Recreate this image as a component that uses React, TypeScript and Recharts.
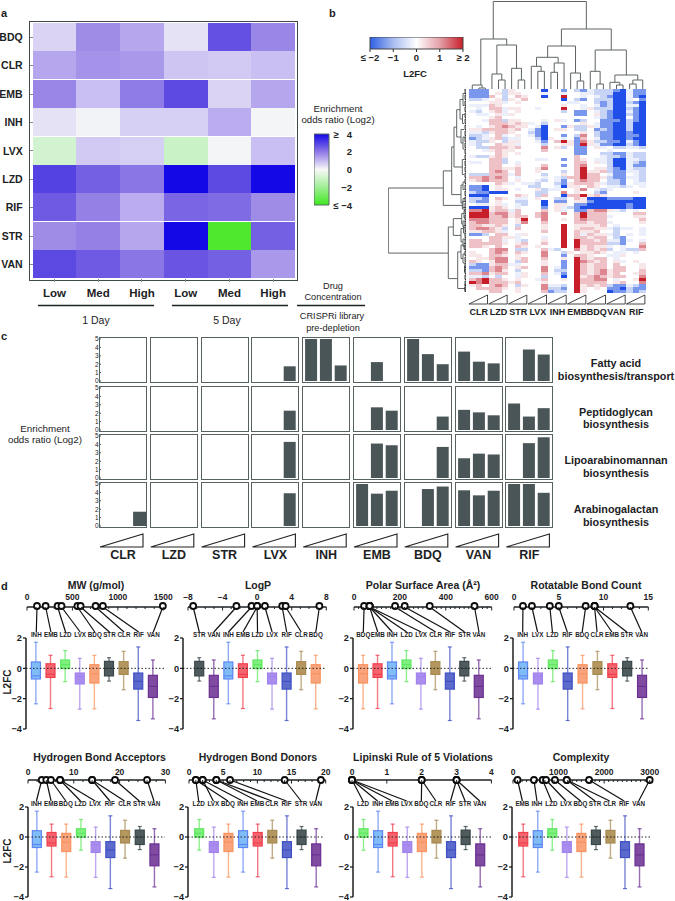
import React from "react";
import {
  BarChart,
  Bar,
  Cell,
  XAxis,
  YAxis,
  ScatterChart,
  Scatter,
  ReferenceLine,
} from "recharts";

const FONT = "'Liberation Sans', Arial, sans-serif";
const INK = "#1c2224";
const minus = (v: number | string) => String(v).replace("-", "\u2212");

// panel a
const oddsDrugs = ["BDQ", "CLR", "EMB", "INH", "LVX", "LZD", "RIF", "STR", "VAN"];
const oddsDoses = ["Low", "Med", "High", "Low", "Med", "High"];
const oddsRatio = [
  [0.7, 1.9, 1.5, 0.4, 3.0, 2.0],
  [1.5, 1.8, 1.7, 1.0, 0.9, 1.1],
  [2.0, 1.1, 2.2, 3.1, 0.7, 1.5],
  [0.4, 0.05, 0.8, 0.8, 1.4, 0.0],
  [-0.9, 0.9, 0.8, -1.1, 0.0, 1.1],
  [3.2, 2.7, 2.3, 4, 3.1, 4],
  [2.8, 2.1, 1.4, 2.6, 2.5, 1.9],
  [1.9, 2.1, 1.5, 4, -4, 2.7],
  [3.1, 2.8, 2.3, 2.9, 2.7, 1.7],
];

// panel b, one string per gene row, groups CLR LZD STR LVX INH EMB BDQ VAN RIF
// a..d = blue levels, p..s = red levels, dot = white
const l2fcRows = [
  "ccc ..b p.. ..d ..c .bc abb bcd acc",
  "ccc .pb pp. ..a ..a ..a abb bdd acc",
  "ccc q.b .qp ..d ..s ..a .ab cdd acd",
  "bba .pb p.q ... ..d .bc .bb bdd a.c",
  "... ppa .p. ... ... aa. .bc bdd bcd",
  "aaa qp. ... ... ..p ..a .ac bdd aad",
  ".a. qqa pp. .a. ..s ..a pbb bdd bcd",
  "ab. pqa .p. ... ..b .cc .ab cdd acd",
  ".aa .pa p.. ... ... .cc .pb cdd bcd",
  "... pq. ... ... ... ... .ab cdd .cd",
  "..a qqb pp. ..a .pa .cb ..c ccd bcd",
  "... qqq pqp a.b ... ..p .ac cdd bdd",
  ".a. pqr qpp .ad ..c pbb pac cdd bdd",
  "ppq qqq pq. acd .pp .bb .cb cdd bdd",
  "aab pqq p.. bcd ... ..p .bc cdd cdd",
  "bba .qa .p. acd ..c .br .bc cdd ccd",
  "cba pqb aa. .bd p.a .cq .ac cdd cdd",
  "abb p.b pp. .ac .qs pcr pbb ccd acd",
  "ab. .qp pa. ..b ..p pcs pac cdd bcd",
  ".bb qqq pq. ..r .pb .cc .pa .bb aab",
  "..a pqp p.. ..q ... .cc ... a.. ...",
  "... .qp .p. ... ... .cc ..b bcc abb",
  "abb pqp ... ... ... .q. ..a bbc abb",
  "... qqb ... .aa ..c .qp .aa bdd aab",
  "aa. qqb .a. ... ... .qq .pa bdd abc",
  "... qq. .p. ..q ..c .qr ... bdd acc",
  "... qqp pq. .pr ... .qs .pp bcd abb",
  "... qrq .q. .p. ..b .qs ppq bcc aab",
  "bbb qqq aq. ..b ..p .qs qq. acc .ab",
  "qqr qrq .a. ..a .ab qqs qqp bcc aab",
  "pqr qqq .p. .ab .ac .qr qq. bbc .ab",
  "... .qp a.a ab. .bc pqq qpa bbc .aa",
  "ccd .p. ... bb. .ad pp. qp. aab a.a",
  "ccd .pp .a. .pb aa. .pr .ab a.. ...",
  "bcc ddd ... .bb ..r .p. .bc ... .p.",
  "ddd ... .qp .bq ..d qqs pqp ... ...",
  "bbc .qp .aa .p. .bb .qp ddd ccc cdd",
  "bcc .p. .bb ..d .cc .pp cdd ddd ddd",
  ".aa .pa .ab ..d .pp .cc ddd ddd cdd",
  "ddd pqp .a. ..c .pa bcd ddd ddd cdd",
  "rrs pqq aq. ..q .pa .cc qrr pab .a.",
  "sss qrr pq. .qr ..r .qs qqq ... .qq",
  "sss qqr pqq .qr ... .qs qqq a.. .pp",
  "rrr qqq .ps ..r ..p .qr qqq ... ..q",
  "qrr qqq .pr ..q ... .qq pqq a.. ..p",
  "qqp pqp .b. ..p ..s .pp ppq .a. ...",
  "qrr qpb .q. ..p ..s .pq qpp aba a.a",
  "ppq qpa ... ..q ..s .qp pq. .b. ..a",
  "ccb .qq .ap ... ..s .qa qpp ab. a.a",
  "... qqp pa. ..a ..s .qq pqq .bc ...",
  "qq. qqa .ab ..p ..s .sq qpq aac a.a",
  "qqq qqp .pq ..q ..s .sq qqq bbc ..q",
  "qqp .q. .qp .p. ..s .sp qpp a.a ..r",
  "... qrr .bb ..q ab. .rp qpq b.a bbq",
  "p.. qrq .qp ..r ..b p.p pqp .aa .a.",
  "pp. qqp .p. ..r ..c .qq p.. aap ...",
  ".pp qrr .pq ..q ..p .sq pqq .a. ...",
  "qp. prr .bq ..p ..c .sr qpq .pa .p.",
  "bcc pqq aa. ..p ..c .sq pqq .q. ..p",
  "ccc qrq .pq ..r .ac .sq pqq .qq ..p",
  "bbc qrp .b. ..r .bb .sq pqr pqq ..q",
  "qqr pqq .ap ..q .ac .sq pqr pq. .pq",
  "aab .b. .ap ..b ..d .sp qrq pqq ..r",
  "qrs qqp .p. .aq ..p .sq qrr .a. .ps",
  "srs qqq pq. ..p ... .sq qqq .pq ..r",
  "pq. qrq .bp ..r aab .sp qpq bcc abc",
  ".qq qqp .p. ..r bbc .sp .p. ccd bcc",
  "... qq. .p. ..q cbb .sp ... dcc bcb",
];
const l2fcLevels: Record<string, number> = {
  ".": 0, a: -0.25, b: -0.65, c: -1.35, d: -2, p: 0.25, q: 0.65, r: 1.2, s: 2,
};
const l2fcDrugs = ["CLR", "LZD", "STR", "LVX", "INH", "EMB", "BDQ", "VAN", "RIF"];

// dendrogram merges: [posA, heightA, posB, heightB, height]
const columnMerges = [
  [1.5, 0, 2.5, 0, 1], [0.5, 0, 2, 1, 4],
  [4.5, 0, 5.5, 0, 9], [3.5, 0, 5, 9, 15],
  [7.5, 0, 8.5, 0, 9], [6.5, 0, 8, 9, 20.7],
  [4.25, 15, 7.25, 20.7, 44], [1.8, 4, 5.75, 44, 50],
  [10.5, 0, 11.5, 0, 17.7], [9.5, 0, 11, 17.7, 22.7],
  [12.5, 0, 13.5, 0, 16.7], [13, 16.7, 14.5, 0, 26],
  [10.3, 22.7, 13.6, 26, 31.7],
  [16.5, 0, 17.5, 0, 8], [15.5, 0, 17, 8, 16],
  [12, 31.7, 16.25, 16, 43],
  [19.5, 0, 20.5, 0, 5], [18.5, 0, 20, 5, 17.7],
  [22.5, 0, 23.5, 0, 4], [21.5, 0, 23, 4, 6.7],
  [24.5, 0, 25.5, 0, 5], [25, 5, 26.5, 0, 9],
  [22.25, 6.7, 25.75, 9, 14],
  [19.25, 17.7, 24, 14, 39],
  [14.1, 43, 21.7, 39, 60],
  [3.7, 50, 17.9, 60, 87.5],
];
const rowMerges = [
  [33, 22.7, 54.7, 17.7, 77.7],
  [27.3, 14.3, 38.8, 3.7, 22.7],
  [19.3, 12, 35.2, 5, 14.3],
  [12.7, 9.3, 26, 3.7, 12],
  [6.9, 6, 16, 5, 9.3],
  [46, 12.7, 63.2, 8.3, 17.7],
  [43.2, 4.3, 48.8, 5, 12.7],
  [54.3, 5, 66.5, 1, 8.3],
  [3.5, 3, 10, 3.5, 6], [1.5, 1, 5.5, 1.5, 3], [8.5, 1.5, 11.5, 2, 3.5],
  [13.5, 2, 18, 3, 5], [16, 1, 20, 1.5, 3], [23.5, 1.5, 28.5, 2, 3.7],
  [32, 3, 38, 3, 5], [31, 1, 33.5, 1.5, 3], [36.5, 1, 39.5, 1, 3],
  [37.5, 0.5, 40, 0.5, 3.7], [41.5, 2, 45, 3, 4.3], [40.5, 1, 43, 1, 2],
  [44, 1, 46, 1, 3], [46.5, 2.5, 51, 3, 5], [45.5, 1, 48, 1, 2.5],
  [50, 1, 52.5, 1, 3], [52, 2, 56.5, 3, 5], [51.5, 0.7, 53.5, 1, 2],
  [55, 1, 58, 1, 3], [59, 0.8, 61, 0.8, 1.5], [65, 0.5, 67.5, 0.5, 1],
];
const leafRows = [
  0, 2, 4, 6, 8, 10, 12, 14, 16, 18, 20, 22, 24, 26, 28, 30, 32, 34, 36, 38, 40, 42, 44, 46, 48,
  50, 52, 54, 56, 58, 60, 62, 64, 66,
];

// panel c
const pathwayDrugs = ["CLR", "LZD", "STR", "LVX", "INH", "EMB", "BDQ", "VAN", "RIF"];
const fattyAcid = [[0, 0, 0], [0, 0, 0], [0, 0, 0], [0, 0, 1.75], [5, 5, 1.85], [0, 2.25, 0], [5, 3.2, 2], [3.5, 2.3, 2.1], [0, 3.75, 3.15]];
const peptidoglycan = [[0, 0, 0], [0, 0, 0], [0, 0, 0], [0, 0, 2.3], [0, 0, 0], [0, 2.7, 2.3], [0, 0, 1.6], [2.4, 2.1, 1.75], [3.15, 1.6, 2.6]];
const lipoarabinomannan = [[0, 0, 0], [0, 0, 0], [0, 0, 0], [0, 0, 4.3], [0, 0, 0], [0, 4.1, 3.9], [0, 0, 3.7], [2.35, 2.9, 2.8], [0, 4.15, 4.85]];
const arabinogalactan = [[0, 0, 1.7], [0, 0, 0], [0, 0, 0], [0, 0, 3.9], [0, 0, 0], [5, 3.85, 4.2], [0, 4.4, 4.7], [4.25, 3.65, 4.2], [5, 5, 3.95]];
const pathwayRows = [fattyAcid, peptidoglycan, lipoarabinomannan, arabinogalactan];

// panel d
const boxDrugs = ["INH", "EMB", "LZD", "LVX", "BDQ", "STR", "CLR", "RIF", "VAN"];
const whiskerHigh = [1.72, 0.86, 1.17, 0.66, 0.86, 0.7, 1.12, 1.41, 0.55];
const quartile3 = [0.42, 0.3, 0.55, -0.31, 0.24, 0.46, 0.44, -0.31, -0.46];
const medians = [-0.5, -0.4, 0.25, -0.53, -0.35, 0, 0, -0.86, -1.19];
const quartile1 = [-0.7, -0.6, -0.02, -1.03, -0.97, -0.5, -0.4, -1.37, -1.92];
const whiskerLow = [-2.34, -2.65, -0.88, -2.69, -2.67, -0.84, -1.41, -3.44, -3.33];
const boxStroke: Record<string, string> = {
  INH: "#5f86f2", EMB: "#f0404e", LZD: "#5fe85f", LVX: "#a283ec", BDQ: "#f8935f",
  STR: "#39474a", CLR: "#a78a52", RIF: "#3f50c4", VAN: "#6b2f92",
};
const boxFill: Record<string, string> = {
  INH: "#7fbcf8", EMB: "#f5636d", LZD: "#7ff07f", LVX: "#a98dee", BDQ: "#f9a47c",
  STR: "#4f5b5d", CLR: "#b4975f", RIF: "#5c6acb", VAN: "#7f4ca2",
};

const mwOrder = ["INH", "EMB", "LZD", "LVX", "BDQ", "STR", "CLR", "RIF", "VAN"];
const mwValues = [110, 205, 337, 380, 555, 590, 755, 835, 1495];
const mwTicks = [0, 100, 200, 300, 400, 500, 600, 700, 800, 900, 1000, 1100, 1200, 1300, 1400, 1500];
const logpOrder = ["STR", "VAN", "INH", "EMB", "LZD", "LVX", "RIF", "CLR", "BDQ"];
const logpValues = [-7.4, -2.4, -0.65, 0, 0, 0.9, 2.9, 3.3, 7.2];
const logpTicks = [-8, -7, -6, -5, -4, -3, -2, -1, 0, 1, 2, 3, 4, 5, 6, 7, 8];
const psaOrder = ["BDQ", "EMB", "INH", "LZD", "LVX", "CLR", "RIF", "STR", "VAN"];
const psaValues = [44, 68, 68, 68, 68, 179, 221, 330, 525];
const psaTicks = [0, 20, 40, 60, 80, 100, 120, 140, 160, 180, 200, 220, 240, 260, 280, 300, 320, 340, 360, 380, 400, 420, 440, 460, 480, 500, 520, 540, 560, 580, 600];
const rotOrder = ["INH", "LVX", "LZD", "RIF", "BDQ", "CLR", "EMB", "STR", "VAN"];
const rotValues = [1, 2, 4, 5, 8, 9, 9, 9, 13];
const rotTicks = [0, 1, 2, 3, 4, 5, 6, 7, 8, 9, 10, 11, 12, 13, 14, 15];
const hbaOrder = ["INH", "EMB", "BDQ", "LZD", "LVX", "RIF", "CLR", "STR", "VAN"];
const hbaValues = [3, 4, 5, 7, 7, 14, 14, 19, 26];
const hbaTicks = [0, 2, 4, 6, 8, 10, 12, 14, 16, 18, 20, 22, 24, 26, 28, 30];
const hbdOrder = ["LZD", "LVX", "BDQ", "INH", "EMB", "CLR", "RIF", "STR", "VAN"];
const hbdValues = [1, 2, 1, 2, 4, 4, 6, 14, 19.3];
const hbdTicks = [0, 1, 2, 3, 4, 5, 6, 7, 8, 9, 10, 11, 12, 13, 14, 15, 16, 17, 18, 19, 20];
const lipinskiOrder = ["LZD", "INH", "EMB", "LVX", "BDQ", "CLR", "RIF", "STR", "VAN"];
const lipinskiValues = [0, 0, 0, 0, 2, 2, 3, 3, 3];
const lipinskiTicks = [0, 1, 2, 3, 4];
const complexityOrder = ["EMB", "INH", "LZD", "LVX", "BDQ", "STR", "CLR", "RIF", "VAN"];
const complexityValues = [100, 460, 650, 725, 920, 1180, 1180, 1670, 3000];
const complexityTicks = [0, 100, 200, 300, 400, 500, 600, 700, 800, 900, 1000, 1100, 1200, 1300, 1400, 1500, 1600, 1700, 1800, 1900, 2000, 2100, 2200, 2300, 2400, 2500, 2600, 2700, 2800, 2900, 3000];

const propertyPanels = [
  { title: "MW (g/mol)", order: mwOrder, values: mwValues, ticks: mwTicks, major: [0, 500, 1000, 1500] },
  { title: "LogP", order: logpOrder, values: logpValues, ticks: logpTicks, major: [-8, -4, 0, 4, 8] },
  { title: "Polar Surface Area (\u00c5\u00b2)", order: psaOrder, values: psaValues, ticks: psaTicks, major: [0, 200, 400, 600] },
  { title: "Rotatable Bond Count", order: rotOrder, values: rotValues, ticks: rotTicks, major: [0, 5, 10, 15] },
  { title: "Hydrogen Bond Acceptors", order: hbaOrder, values: hbaValues, ticks: hbaTicks, major: [0, 10, 20, 30] },
  { title: "Hydrogen Bond Donors", order: hbdOrder, values: hbdValues, ticks: hbdTicks, major: [0, 5, 10, 15, 20] },
  { title: "Lipinski Rule of 5 Violations", order: lipinskiOrder, values: lipinskiValues, ticks: lipinskiTicks, major: [0, 1, 2, 3, 4] },
  { title: "Complexity", order: complexityOrder, values: complexityValues, ticks: complexityTicks, major: [0, 1000, 2000, 3000] },
];

// pixel layout of the eight property panels
const panelLayout = [
  { ax0: 26.7, ax1: 163, box0: 26.3, box1: 166, first: 36, last: 153, titleX: 96, row: 0 },
  { ax0: 187.7, ax1: 326, box0: 183, box1: 326, first: 199, last: 315.5, titleX: 258, row: 0 },
  { ax0: 354, ax1: 491.7, box0: 353, box1: 491.7, first: 363.3, last: 479, titleX: 423, row: 0 },
  { ax0: 514, ax1: 648.3, box0: 512.7, box1: 648.3, first: 522.7, last: 641.7, titleX: 586, row: 0 },
  { ax0: 28.3, ax1: 165.7, box0: 28, box1: 165, first: 36.7, last: 154.3, titleX: 99.5, row: 1 },
  { ax0: 189.3, ax1: 326, box0: 188, box1: 324, first: 199, last: 316, titleX: 258, row: 1 },
  { ax0: 352.3, ax1: 491.7, box0: 353, box1: 491, first: 363.3, last: 480, titleX: 423, row: 1 },
  { ax0: 513.3, ax1: 650, box0: 511.7, box1: 650, first: 522.7, last: 639, titleX: 581, row: 1 },
];
const rowLayout = [
  { title: 585, axis: 607, tickGap: 10, dotLift: 1, connector: 632, boxTop: 638, boxBottom: 729 },
  { title: 757, axis: 780, tickGap: 8, dotLift: 0, connector: 801, boxTop: 806.5, boxBottom: 896.5 },
];

const hex = (c: string) => [1, 3, 5].map((i) => parseInt(c.slice(i, i + 2), 16));
const ramp = (stops: [number, string][], v: number) => {
  for (let i = 1; i < stops.length; i++) {
    if (v <= stops[i][0]) {
      const [a, ca] = stops[i - 1];
      const [b, cb] = stops[i];
      const t = Math.max(0, (v - a) / (b - a));
      const A = hex(ca);
      const B = hex(cb);
      return `rgb(${A.map((x, k) => Math.round(x + (B[k] - x) * t)).join(",")})`;
    }
  }
  return stops[stops.length - 1][1];
};
const oddsStops: [number, string][] = [
  [-4, "#4fe82f"], [-2, "#a8f0a0"], [0, "#f4f5f7"], [1, "#cfc5f3"], [2, "#9a86e6"], [3, "#6450e2"], [4, "#1408e6"],
];
const l2fcStops: [number, string][] = [
  [-2, "#1f4fe8"], [-1, "#a9bdf0"], [0, "#ffffff"], [1, "#e3a0a8"], [2, "#c81e2a"],
];

const abs = (left: number, top: number): React.CSSProperties => ({ position: "absolute", left, top });

function Label({ x, y, children, size = 10, bold = false, anchor = "middle", rotate }: any) {
  return (
    <text
      x={x}
      y={y}
      fontSize={size}
      fontWeight={bold ? 700 : 400}
      textAnchor={anchor}
      dominantBaseline="central"
      fill={INK}
      transform={rotate ? `rotate(${rotate} ${x} ${y})` : undefined}
    >
      {children}
    </text>
  );
}

function OddsHeatmap() {
  const data = oddsDrugs.map((drug) => ({ drug }));
  return (
    <div style={abs(0, 0)}>
      <div style={{ ...abs(29, 21), width: 269, height: 260, boxSizing: "border-box", border: "1.5px solid #3e4a4b" }} />
      <BarChart
        width={295}
        height={303}
        data={data}
        layout="vertical"
        barCategoryGap={0}
        margin={{ top: 23, right: 0, bottom: 0, left: 0 }}
        style={{ position: "absolute", left: 0, top: 0, shapeRendering: "crispEdges" }}
      >
        <XAxis
          type="number"
          domain={[0, 6]}
          ticks={[0.5, 1.5, 2.5, 3.5, 4.5, 5.5]}
          interval={0}
          height={24.3}
          tickSize={3}
          tickMargin={7}
          axisLine={false}
          tickLine={{ stroke: "#888" }}
          tickFormatter={(v: number) => oddsDoses[Math.floor(v)]}
          tick={{ fontSize: 11.5, fontWeight: 700, fill: INK }}
        />
        <YAxis
          type="category"
          dataKey="drug"
          width={32.7}
          interval={0}
          axisLine={false}
          tickSize={3}
          tickMargin={7}
          tickLine={{ stroke: "#888" }}
          tick={{ fontSize: 10.5, fontWeight: 700, fill: INK }}
        />
        {oddsDoses.map((_, c) => (
          <Bar key={c} dataKey={() => 1} stackId="odds" isAnimationActive={false}>
            {oddsRatio.map((row, r) => (
              <Cell key={r} fill={ramp(oddsStops, row[c])} />
            ))}
          </Bar>
        ))}
      </BarChart>
    </div>
  );
}

function OddsColorbar() {
  const tickText: Record<number, string> = {
    4: "\u2265\u00a0\u00a0\u00a04",
    2: "2",
    0: "0",
    [-2]: "\u22122",
    [-4]: "\u2264\u00a0\u22124",
  };
  return (
    <BarChart
      width={44}
      height={91}
      data={[{ k: "odds", lo: -4, hi: 4 }]}
      barCategoryGap={0}
      margin={{ top: 10, right: 0, bottom: 10, left: 0 }}
      style={abs(314, 124)}
    >
      <defs>
        <linearGradient id="oddsGrad" x1="0" y1="0" x2="0" y2="1">
          <stop offset="0" stopColor="#1408e6" />
          <stop offset="0.25" stopColor="#8f78e6" />
          <stop offset="0.5" stopColor="#f8f8f8" />
          <stop offset="0.75" stopColor="#a0ee95" />
          <stop offset="1" stopColor="#3fe81f" />
        </linearGradient>
      </defs>
      <XAxis dataKey="k" hide />
      <YAxis
        orientation="right"
        domain={[-4, 4]}
        ticks={[-4, -2, 0, 2, 4]}
        width={29}
        interval={0}
        axisLine={false}
        tickLine={false}
        tickMargin={0}
        tickSize={0}
        tick={(p: any) => (
          <text x={38} y={p.y} textAnchor="end" dominantBaseline="central" fontSize={9.5} fontWeight={700} fill={INK}>
            {tickText[p.payload.value]}
          </text>
        )}
      />
      <Bar dataKey={(d: any) => [d.lo, d.hi]} fill="url(#oddsGrad)" stroke="#5a6a64" isAnimationActive={false} />
    </BarChart>
  );
}

function L2fcColorbar() {
  const tickText: Record<number, string> = { [-2]: "\u2264 \u22122", [-1]: "\u22121", 0: "0", 1: "1", 2: "\u2265 2" };
  return (
    <BarChart
      width={123}
      height={36}
      layout="vertical"
      data={[{ k: "l2fc", lo: -2, hi: 2 }]}
      barCategoryGap={0}
      margin={{ top: 0, right: 15, bottom: 0, left: 15 }}
      style={abs(355, 37)}
    >
      <defs>
        <linearGradient id="l2fcGrad" x1="0" y1="0" x2="1" y2="0">
          <stop offset="0" stopColor="#2f5fe6" />
          <stop offset="0.25" stopColor="#a9bdf0" />
          <stop offset="0.5" stopColor="#ffffff" />
          <stop offset="0.75" stopColor="#e3a0a8" />
          <stop offset="1" stopColor="#c81e2a" />
        </linearGradient>
      </defs>
      <XAxis
        type="number"
        domain={[-2, 2]}
        ticks={[-2, -1, 0, 1, 2]}
        interval={0}
        height={24}
        tickSize={3}
        tickMargin={2}
        axisLine={false}
        tickLine={{ stroke: "#333" }}
        tickFormatter={(v: number) => tickText[v]}
        tick={{ fontSize: 9.5, fontWeight: 700, fill: INK }}
      />
      <YAxis type="category" dataKey="k" hide />
      <Bar dataKey={(d: any) => [d.lo, d.hi]} fill="url(#l2fcGrad)" stroke="#444" isAnimationActive={false} />
    </BarChart>
  );
}

function L2fcHeatmap() {
  const rows = l2fcRows.map((s) => s.replace(/ /g, "").split("").map((ch) => l2fcLevels[ch]));
  const data = rows.map((_, i) => ({ row: `g${i}` }));
  return (
    <BarChart
      width={177}
      height={204}
      data={data}
      layout="vertical"
      barCategoryGap={0}
      margin={{ top: 0, right: 0, bottom: 0, left: 0 }}
      style={{ ...abs(469, 89), shapeRendering: "crispEdges", filter: "blur(0.45px)" }}
    >
      <XAxis type="number" domain={[0, 27]} hide />
      <YAxis type="category" dataKey="row" hide />
      {rows[0].map((_, c) => (
        <Bar key={c} dataKey={() => 1} stackId="l2fc" isAnimationActive={false}>
          {rows.map((row, r) => (
            <Cell key={r} fill={ramp(l2fcStops, row[c])} />
          ))}
        </Bar>
      ))}
    </BarChart>
  );
}

const noDot = () => <g />;

function ColumnDendrogram() {
  return (
    <ScatterChart width={177} height={89} margin={{ top: 0, right: 0, bottom: 0, left: 0 }} style={abs(469, 0)}>
      <XAxis type="number" dataKey="x" domain={[0, 27]} hide />
      <YAxis type="number" dataKey="y" domain={[0, 89]} hide />
      {columnMerges.map(([xa, ha, xb, hb, h], i) => (
        <Scatter
          key={i}
          data={[{ x: xa, y: ha }, { x: xa, y: h }, { x: xb, y: h }, { x: xb, y: hb }]}
          line={{ stroke: "#5e6466", strokeWidth: 1 }}
          shape={noDot}
          isAnimationActive={false}
        />
      ))}
    </ScatterChart>
  );
}

function RowDendrogram() {
  const leaves = leafRows.map((r) => [r, 0, r + 1.5, 0, 0.9]);
  return (
    <ScatterChart width={78} height={204} margin={{ top: 0, right: 0, bottom: 0, left: 0 }} style={abs(388, 89)}>
      <XAxis type="number" dataKey="x" domain={[0, 78]} reversed hide />
      <YAxis type="number" dataKey="y" domain={[0, 68]} reversed hide />
      {rowMerges.concat(leaves).map(([ra, ha, rb, hb, h], i) => (
        <Scatter
          key={i}
          data={[{ x: ha, y: ra }, { x: h, y: ra }, { x: h, y: rb }, { x: hb, y: rb }]}
          line={{ stroke: i < rowMerges.length ? "#5e6466" : "#1c1c1c", strokeWidth: 1 }}
          shape={noDot}
          isAnimationActive={false}
        />
      ))}
    </ScatterChart>
  );
}

function PathwayCell({ values, col, row }: { values: number[]; col: number; row: number }) {
  const left = 99 + col * 50.8;
  const top = 337.3 + row * 48.3;
  const gutter = col === 0 ? 12 : 0;
  const slack = 6;
  return (
    <>
      <div style={{ ...abs(left, top), width: 48, height: 46, boxSizing: "border-box", border: "1.5px solid #56625f" }} />
      <BarChart
        width={48 + gutter}
        height={46 + slack * 2}
        data={values.map((v, i) => ({ dose: i, v }))}
        barCategoryGap={1.3}
        margin={{ top: 2 + slack, right: 1.8, bottom: 2 + slack, left: col === 0 ? 0 : 1.8 }}
        style={abs(left - gutter + (col === 0 ? 1.8 : 0), top - slack)}
      >
        <XAxis dataKey="dose" hide />
        <YAxis
          hide={col !== 0}
          domain={[0, 5]}
          ticks={[0, 1, 2, 3, 4, 5]}
          interval={0}
          width={12}
          axisLine={false}
          tickSize={1.5}
          tickMargin={1}
          tickLine={{ stroke: "#555" }}
          tick={{ fontSize: 6.5, fill: INK }}
        />
        <Bar dataKey="v" fill="#4a5557" isAnimationActive={false} />
      </BarChart>
    </>
  );
}

function BoxShape(props: any) {
  const { x, y, width, height, payload: d } = props;
  const perUnit = height / (d.hi - d.lo);
  const py = (v: number) => y + (d.hi - v) * perUnit;
  const cx = x + width / 2;
  const stroke = boxStroke[d.drug];
  const fill = boxFill[d.drug];
  return (
    <g>
      <line x1={cx} x2={cx} y1={py(d.hi)} y2={py(d.lo)} stroke={stroke} strokeWidth={1.4} opacity={0.7} />
      <line x1={cx - 2} x2={cx + 2} y1={py(d.hi)} y2={py(d.hi)} stroke={stroke} strokeWidth={1.2} opacity={0.8} />
      <line x1={cx - 2} x2={cx + 2} y1={py(d.lo)} y2={py(d.lo)} stroke={stroke} strokeWidth={1.2} opacity={0.8} />
      <rect x={cx - 4.5} y={py(d.q3)} width={9} height={py(d.q1) - py(d.q3)} fill={fill} stroke={stroke} strokeWidth={1.2} />
      <line x1={cx - 4.5} x2={cx + 4.5} y1={py(d.med)} y2={py(d.med)} stroke={stroke} strokeWidth={1.2} />
    </g>
  );
}

function PropertyAxis({ panel, layout }: any) {
  const rowPos = rowLayout[layout.row];
  const step = (layout.last - layout.first) / 8;
  const [dMin, dMax] = [panel.ticks[0], panel.ticks[panel.ticks.length - 1]];
  const toProp = (px: number) => dMin + ((px - layout.ax0) / (layout.ax1 - layout.ax0)) * (dMax - dMin);
  const points = panel.order.map((drug: string, i: number) => ({
    drug,
    x: panel.values[i],
    y: 0,
    labelX: toProp(layout.first + i * step),
  }));
  const marginL = 20;
  const marginR = 20;
  const headroom = 16;
  const tick = (p: any) => {
    const major = panel.major.includes(p.payload.value);
    return (
      <g>
        <line x1={p.x} x2={p.x} y1={p.y} y2={p.y + (major ? 3.5 : 2)} stroke={INK} strokeWidth={1} />
        {major && (
          <text x={p.x} y={p.y - rowPos.tickGap} textAnchor="middle" dominantBaseline="central" fontSize={8.5} fontWeight={700} fill={INK}>
            {minus(p.payload.value)}
          </text>
        )}
      </g>
    );
  };
  return (
    <ScatterChart
      width={layout.ax1 - layout.ax0 + marginL + marginR}
      height={rowPos.connector - rowPos.axis + headroom + 12}
      margin={{ top: 0, right: marginR, bottom: 12, left: marginL }}
      style={abs(layout.ax0 - marginL, rowPos.axis - headroom)}
    >
      <XAxis
        type="number"
        dataKey="x"
        orientation="top"
        domain={[dMin, dMax]}
        ticks={panel.ticks}
        interval={0}
        height={headroom}
        tickSize={0}
        tickMargin={0}
        tickLine={false}
        axisLine={{ stroke: INK, strokeWidth: 1.3 }}
        tick={tick}
      />
      <YAxis type="number" dataKey="y" domain={[-1, 0]} hide />
      {points.map((p: any) => (
        <Scatter
          key={p.drug}
          data={[{ x: p.x, y: 0 }, { x: p.labelX, y: -1 }]}
          line={{ stroke: "#111", strokeWidth: 1.2 }}
          shape={noDot}
          isAnimationActive={false}
        />
      ))}
      <Scatter
        data={points}
        isAnimationActive={false}
        shape={(p: any) => <circle cx={p.cx} cy={p.cy - rowPos.dotLift} r={3} fill="#fff" stroke="#0c0c0c" strokeWidth={1.8} />}
      />
      <Scatter
        data={points.map((p: any) => ({ x: p.labelX, y: -1, drug: p.drug }))}
        isAnimationActive={false}
        shape={(p: any) => (
          <text x={p.cx} y={p.cy + 3} textAnchor="middle" dominantBaseline="central" fontSize={6.3} fontWeight={700} fill={INK}>
            {p.payload.drug}
          </text>
        )}
      />
    </ScatterChart>
  );
}

function PropertyBoxes({ panel, layout }: any) {
  const rowPos = rowLayout[layout.row];
  const step = (layout.last - layout.first) / 8;
  const data = panel.order.map((drug: string) => {
    const i = boxDrugs.indexOf(drug);
    return { drug, hi: whiskerHigh[i], q3: quartile3[i], med: medians[i], q1: quartile1[i], lo: whiskerLow[i] };
  });
  const gutter = 22;
  return (
    <BarChart
      width={layout.box1 - layout.box0 + gutter}
      height={rowPos.boxBottom - rowPos.boxTop + 12}
      data={data}
      barCategoryGap={0}
      margin={{ top: 6, right: 0, bottom: 6, left: 0 }}
      style={abs(layout.box0 - gutter, rowPos.boxTop - 6)}
    >
      <XAxis
        dataKey="drug"
        height={0}
        tick={false}
        tickLine={false}
        axisLine={{ stroke: "#111", strokeWidth: 1.4 }}
        padding={{ left: layout.first - step / 2 - layout.box0, right: layout.box1 - layout.last - step / 2 }}
      />
      <YAxis
        domain={[-4, 2]}
        ticks={[-4, -2, 0, 2]}
        interval={0}
        width={gutter}
        tickSize={3}
        tickMargin={1}
        axisLine={{ stroke: "#111", strokeWidth: 1.4 }}
        tickLine={{ stroke: "#111", strokeWidth: 1.2 }}
        tickFormatter={minus}
        tick={{ fontSize: 9.2, fontWeight: 700, fill: INK }}
      />
      <Bar dataKey={(d: any) => [d.lo, d.hi]} shape={<BoxShape />} isAnimationActive={false} />
      <ReferenceLine y={0} stroke="#222" strokeWidth={1} strokeDasharray="1.5 2" />
    </BarChart>
  );
}

const pathwayNames = [
  ["Fatty acid", "biosynthesis/transport"],
  ["Peptidoglycan", "biosynthesis"],
  ["Lipoarabinomannan", "biosynthesis"],
  ["Arabinogalactan", "biosynthesis"],
];

function Annotations() {
  return (
    <svg width={675} height={901} style={{ ...abs(0, 0), pointerEvents: "none" }} fontFamily={FONT}>
      <Label x={1} y={13} size={11} bold anchor="start">a</Label>
      <Label x={329} y={13} size={11} bold anchor="start">b</Label>
      <Label x={1} y={336} size={11} bold anchor="start">c</Label>
      <Label x={1} y={586} size={11} bold anchor="start">d</Label>

      {/* panel a */}
      <Label x={338} y={108} size={9.7}>Enrichment</Label>
      <Label x={338} y={119} size={9.7}>odds ratio (Log2)</Label>
      <line x1={38} x2={154} y1={305.5} y2={305.5} stroke={INK} strokeWidth={1.3} />
      <line x1={172} x2={288} y1={305.5} y2={305.5} stroke={INK} strokeWidth={1.3} />
      <line x1={297} x2={365} y1={305.5} y2={305.5} stroke={INK} strokeWidth={1.3} />
      <Label x={96} y={319.5} size={10.5}>1 Day</Label>
      <Label x={227} y={319.5} size={10.5}>5 Day</Label>
      <Label x={333} y={286} size={9.2}>Drug</Label>
      <Label x={333} y={297} size={9.2}>Concentration</Label>
      <Label x={332} y={316} size={9.2}>CRISPRi library</Label>
      <Label x={333} y={328} size={9.2}>pre-depletion</Label>

      {/* panel b */}
      <Label x={415} y={73} size={9.5} bold>L2FC</Label>
      {l2fcDrugs.map((d, i) => {
        const x = 469 + i * 19.67;
        return (
          <g key={d}>
            <polygon points={`${x},304 ${x + 18.5},304 ${x + 18.5},295`} fill="#fff" stroke="#333" strokeWidth={0.9} />
            <Label x={x + 9.8} y={312} size={9} bold>{d}</Label>
          </g>
        );
      })}

      {/* panel c */}
      <Label x={45} y={428} size={9.8}>Enrichment</Label>
      <Label x={45} y={439} size={9.8}>odds ratio (Log2)</Label>
      {pathwayDrugs.map((d, i) => {
        const x = 100 + i * 50.8;
        return (
          <g key={d}>
            <polygon points={`${x},547 ${x + 43},547 ${x + 43},534`} fill="#fff" stroke="#222" strokeWidth={1.1} />
            <Label x={x + 23} y={555} size={12.5} bold>{d}</Label>
          </g>
        );
      })}
      {pathwayNames.map((lines, i) => (
        <g key={i}>
          <Label x={616} y={363 + i * 48.7} size={10.8} bold>{lines[0]}</Label>
          <Label x={616} y={375.5 + i * 48.7} size={10.8} bold>{lines[1]}</Label>
        </g>
      ))}

      {/* panel d */}
      {panelLayout.map((l, i) => (
        <Label key={i} x={l.titleX} y={rowLayout[l.row].title} size={10.5} bold>
          {propertyPanels[i].title}
        </Label>
      ))}
      <Label x={7} y={682} size={10} bold rotate={-90}>L2FC</Label>
      <Label x={7} y={851} size={10} bold rotate={-90}>L2FC</Label>
    </svg>
  );
}

export default function App() {
  return (
    <div style={{ ...abs(0, 0), width: 675, height: 901, background: "#fff", overflow: "hidden", fontFamily: FONT }}>
      <OddsHeatmap />
      <OddsColorbar />
      <L2fcColorbar />
      <ColumnDendrogram />
      <RowDendrogram />
      <L2fcHeatmap />
      {pathwayRows.map((row, r) =>
        row.map((values, c) => <PathwayCell key={`${r}-${c}`} values={values} col={c} row={r} />),
      )}
      {propertyPanels.map((panel, i) => (
        <React.Fragment key={panel.title}>
          <PropertyBoxes panel={panel} layout={panelLayout[i]} />
          <PropertyAxis panel={panel} layout={panelLayout[i]} />
        </React.Fragment>
      ))}
      <Annotations />
    </div>
  );
}
